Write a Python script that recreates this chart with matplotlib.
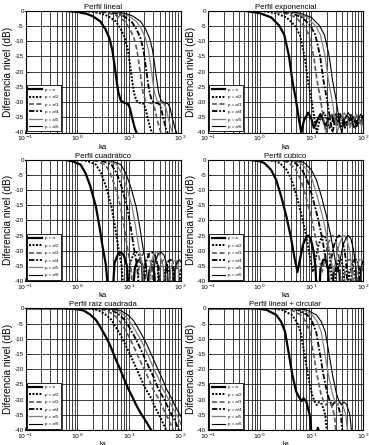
import matplotlib
matplotlib.use("Agg")
import matplotlib.pyplot as plt
from matplotlib.ticker import NullFormatter, LogLocator

plt.rcParams['font.family'] = ['Liberation Sans', 'DejaVu Sans']

labels = ["p = a", "p = a/2", "p = a/3", "p = a/4", "p = a/5", "p = a/6"]
titles = ["Perfil lineal", "Perfil exponencial", "Perfil cuadrático",
          "Perfil cúbico", "Perfil raíz cuadrada", "Perfil lineal + circular"]
x_ticks = [0.1, 1, 10, 100]
x_ticklabels = ["$10^{-1}$", "$10^{0}$", "$10^{1}$", "$10^{2}$"]
y_ticks = [0, -5, -10, -15, -20, -25, -30, -35, -40]
y_ticklabels = ["0", "-5", "-10", "-15", "-20", "-25", "-30", "-35", "-40"]

# ---- Perfil lineal ----
lineal_db = [0, 0, -0.4, -1, -1.8, -3.5, -6, -9, -13, -18, -23, -27, -29.5, -30.2, -30.5, -32, -35, -38.5, -40, -44]
lineal_ka = [
    [0.1, 0.5, 1.0, 1.5, 2.0, 2.8, 3.5, 4.2, 4.8, 5.3, 5.8, 6.3, 7.0, 8.0, 9.5, 10.5, 11.5, 13, 14, 16],
    [0.1, 1.0, 2.0, 3.0, 4.0, 5.6, 7.0, 8.4, 9.6, 10.6, 11.6, 12.6, 14, 16, 19, 21, 23, 26, 28, 32],
    [0.1, 1.5, 3.0, 4.5, 6.0, 8.4, 10.5, 12.6, 14.4, 15.9, 17.4, 18.9, 21, 24, 28.5, 31.5, 34.5, 39, 42, 48],
    [0.1, 2.0, 4.0, 6.0, 8.0, 11.2, 14, 16.8, 19.2, 21.2, 23.2, 25.2, 28, 32, 38, 42, 46, 52, 56, 64],
    [0.1, 2.5, 5.0, 7.5, 10, 14, 17.5, 21, 24, 26.5, 29, 31.5, 35, 40, 47.5, 52.5, 57.5, 65, 70, 80],
    [0.1, 3.0, 6.0, 9.0, 12, 16.8, 21, 25.2, 28.8, 31.8, 34.8, 37.8, 42, 48, 57, 63, 69, 78, 84, 96],
]

# ---- Perfil exponencial ----
expo_db = [0, 0, -0.8, -2.2, -4.9, -8, -15, -23, -29, -36, -40, -36, -33.5, -35.5, -38.5,
           -36, -34, -36, -38, -35.5, -34.5, -37, -37.5, -35, -35, -37, -36.5, -35.5, -36.5, -36]
expo_ka = [
    [0.1, 0.5, 1, 1.67, 2.4, 3, 3.7, 4.3, 5, 5.8, 6.4, 7.2, 8.7, 10, 11.2, 13, 15, 17, 18.7, 21.5,
     25, 28, 31, 35, 40, 45, 50, 60, 70, 85],
    [0.1, 1, 2, 3.3, 4.8, 6, 7.4, 8.6, 10, 11.6, 12.8, 14.4, 17.4, 20, 22.4, 26, 30, 34, 37.4, 43,
     50, 56, 62, 70, 80, 90, 100, 120, 140, 170],
    [0.1, 1.5, 3, 5, 7.2, 9, 11.1, 12.9, 15, 17.4, 19.2, 21.6, 26.1, 30, 33.6, 39, 45, 51, 56, 64.5,
     75, 84, 93, 105, 120, 135, 150, 180, 210, 255],
    [0.1, 2, 4, 6.7, 9.6, 12, 14.8, 17.2, 20, 23.2, 25.6, 28.8, 34.8, 40, 44.8, 52, 60, 68, 74.8, 86,
     100, 112, 124, 140, 160, 180, 200, 240, 280, 340],
    [0.1, 2.5, 5, 8.4, 12, 15, 18.5, 21.5, 25, 29, 32, 36, 43.5, 50, 56, 65, 75, 85, 93.5, 107.5,
     125, 140, 155, 175, 200, 225, 250, 300, 350, 425],
    [0.1, 3, 6, 10, 14.4, 18, 22.2, 25.8, 30, 34.8, 38.4, 43.2, 52.2, 60, 67.2, 78, 90, 102, 112, 129,
     150, 168, 186, 210, 240, 270, 300, 360, 420, 510],
]

# ---- Perfil cuadrático ----
cuad_db = [0, 0, -0.5, -1.6, -4.4, -8.8, -15.4, -22, -28.6, -34.7, -48, -48, -34, -31, -30.5,
           -31.5, -35, -48, -48, -36, -33.5, -33, -34.5, -48, -48, -36.5, -35.5, -37, -48]
cuad_ka = [
    [0.1, 0.55, 0.8, 1.16, 1.45, 1.8, 2.3, 2.7, 3.1, 3.6, 4.2, 4.7, 5.3, 6.2, 7.0, 8.0, 9.2, 10.3,
     11.5, 13, 14.5, 16, 18, 19.5, 22, 25, 28, 31, 34],
    [0.1, 1.1, 1.6, 2.3, 2.9, 3.6, 4.6, 5.4, 6.2, 7.2, 8.4, 9.4, 10.6, 12.4, 14, 16, 18.4, 20.6,
     23, 26, 29, 32, 36, 39, 44, 50, 56, 62, 68],
    [0.1, 1.65, 2.4, 3.5, 4.35, 5.4, 6.9, 8.1, 9.3, 10.8, 12.6, 14.1, 15.9, 18.6, 21, 24, 27.6, 30.9,
     34.5, 39, 43.5, 48, 54, 58.5, 66, 75, 84, 93, 102],
    [0.1, 2.2, 3.2, 4.6, 5.8, 7.2, 9.2, 10.8, 12.4, 14.4, 16.8, 18.8, 21.2, 24.8, 28, 32, 36.8, 41.2,
     46, 52, 58, 64, 72, 78, 88, 100, 112, 124, 136],
    [0.1, 2.75, 4, 5.8, 7.25, 9, 11.5, 13.5, 15.5, 18, 21, 23.5, 26.5, 31, 35, 40, 46, 51.5,
     57.5, 65, 72.5, 80, 90, 97.5, 110, 125, 140, 155, 170],
    [0.1, 3.3, 4.8, 7, 8.7, 10.8, 13.8, 16.2, 18.6, 21.6, 25.2, 28.2, 31.8, 37.2, 42, 48, 55.2, 61.8,
     69, 78, 87, 96, 108, 117, 132, 150, 168, 186, 204],
]

# ---- Perfil cúbico ----
cub_db = [0, 0, -0.5, -1.1, -3.3, -6.6, -12, -18.8, -25.4, -33, -37, -33, -28, -25.5, -25, -26, -30,
          -35, -48, -48, -36, -33, -33, -36, -48, -48, -37, -35.5, -37, -48]
cub_ka = [
    [0.1, 0.6, 1.0, 1.23, 1.66, 2.08, 2.6, 3.3, 4.0, 4.8, 5.4, 6.0, 6.9, 8.0, 8.7, 9.7, 11, 12, 13,
     14, 15, 17, 19, 21, 23, 25, 27, 31, 35, 38],
    [0.1, 1.2, 2.0, 2.46, 3.32, 4.16, 5.2, 6.6, 8.0, 9.6, 10.8, 12, 13.8, 16, 17.4, 19.4, 22, 24, 26,
     28, 30, 34, 38, 42, 46, 50, 54, 62, 70, 76],
    [0.1, 1.8, 3, 3.7, 5, 6.24, 7.8, 9.9, 12, 14.4, 16.2, 18, 20.7, 24, 26.1, 29.1, 33, 36, 39,
     42, 45, 51, 57, 63, 69, 75, 81, 93, 105, 114],
    [0.1, 2.4, 4, 4.9, 6.6, 8.3, 10.4, 13.2, 16, 19.2, 21.6, 24, 27.6, 32, 34.8, 38.8, 44, 48, 52,
     56, 60, 68, 76, 84, 92, 100, 108, 124, 140, 152],
    [0.1, 3, 5, 6.15, 8.3, 10.4, 13, 16.5, 20, 24, 27, 30, 34.5, 40, 43.5, 48.5, 55, 60, 65,
     70, 75, 85, 95, 105, 115, 125, 135, 155, 175, 190],
    [0.1, 3.6, 6, 7.4, 10, 12.5, 15.6, 19.8, 24, 28.8, 32.4, 36, 41.4, 48, 52.2, 58.2, 66, 72, 78,
     84, 90, 102, 114, 126, 138, 150, 162, 186, 210, 228],
]

# ---- Perfil raíz cuadrada ----
raiz_db = [0, 0, -0.3, -0.7, -2, -3.8, -6, -9, -12, -16.5, -19.8, -23, -26.4, -29.5, -31.9, -34.5,
           -36.3, -38.5, -40, -43]
raiz_ka = [
    [0.1, 0.5, 1, 1.32, 1.77, 2.3, 2.77, 3.5, 4.3, 5.5, 6.7, 8, 9.7, 12, 14, 17, 20, 24, 27, 33],
    [0.1, 1, 2, 2.6, 3.5, 4.6, 5.5, 7, 8.6, 11.5, 14, 17, 21, 27, 31, 37, 42, 48, 53, 64],
    [0.1, 1.4, 2.8, 3.7, 5, 6.4, 7.8, 9.8, 12, 15.8, 19.5, 24, 29, 37, 43, 51, 58, 66, 72, 86],
    [0.1, 1.8, 3.6, 4.8, 6.4, 8.3, 10, 12.6, 15.5, 20.5, 25, 31, 37, 47, 55, 65, 75, 85, 93, 110],
    [0.1, 2.2, 4.4, 5.8, 7.8, 10, 12, 15.4, 19, 25, 30.5, 37.5, 45, 57, 67, 80, 92, 104, 114, 135],
    [0.1, 2.6, 5.2, 6.9, 9.3, 12, 14.5, 18.2, 22.5, 29.5, 36, 44, 53, 67, 78, 94, 108, 122, 135, 160],
]

# ---- Perfil lineal + circular ----
lc_db_a = [0, 0, -0.5, -2.2, -4.4, -7.7, -15.3, -22, -27.4, -29, -30.5, -29.6, -30.7, -35, -45, -41, -39.3, -41]
lc_db_b = [0, 0, -0.5, -2.2, -4.4, -7.7, -15.3, -22, -28, -30.5, -31.8, -30.8, -31.5, -35, -45, -45, -45, -45]
lc_ka = [
    [0.1, 0.8, 1.35, 2.1, 2.6, 3.1, 3.7, 4.3, 5.1, 5.7, 6.4, 7.1, 8.0, 9.3, 10.6, 12.6, 13.4, 14.2],
    [0.1, 1.6, 2.7, 4.2, 5.2, 6.2, 7.4, 8.6, 10.2, 11.4, 12.8, 14.2, 16, 18.6, 21.2, 25.2, 26.8, 28.4],
    [0.1, 2.4, 4.05, 6.3, 7.8, 9.3, 11.1, 12.9, 15.3, 17.1, 19.2, 21.3, 24, 27.9, 31.8, 37.8, 40.2, 42.6],
    [0.1, 3.2, 5.4, 8.4, 10.4, 12.4, 14.8, 17.2, 20.4, 22.8, 25.6, 28.4, 32, 37.2, 42.4, 50.4, 53.6, 56.8],
    [0.1, 4, 6.75, 10.5, 13, 15.5, 18.5, 21.5, 25.5, 28.5, 32, 35.5, 40, 46.5, 53, 63, 67, 71],
    [0.1, 4.8, 8.1, 12.6, 15.6, 18.6, 22.2, 25.8, 30.6, 34.2, 38.4, 42.6, 48, 55.8, 63.6, 75.6, 80.4, 85.2],
]

panels = [
    (lineal_ka, [lineal_db] * 6),
    (expo_ka, [expo_db] * 6),
    (cuad_ka, [cuad_db] * 6),
    (cub_ka, [cub_db] * 6),
    (raiz_ka, [raiz_db] * 6),
    (lc_ka, [lc_db_a] + [lc_db_b] * 5),
]

styles = [
    dict(color='k', lw=1.6, ls='-'),
    dict(color='k', lw=1.4, ls=(0, (1, 0.8))),
    dict(color='0.35', lw=1.2, ls=(0, (3, 1.5))),
    dict(color='k', lw=1.3, ls=(0, (3, 1, 1, 1))),
    dict(color='0.5', lw=0.9, ls='-'),
    dict(color='k', lw=0.8, ls='-'),
]

W, H = 369, 445
fig = plt.figure(figsize=(W / 100, H / 100), dpi=100)

lefts = [25.5, 208]
widths = [155, 155]
rows = [(10.7, 132.5), (159.7, 281), (308.3, 430)]

for i, ((kas, dbs), title) in enumerate(zip(panels, titles)):
    r, c = divmod(i, 2)
    top, bot = rows[r]
    ax = fig.add_axes([lefts[c] / W, 1 - bot / H, widths[c] / W, (bot - top) / H])
    for ka, db, st, lab in zip(kas, dbs, styles, labels):
        ax.plot(ka, db, label=lab, **st)
    ax.set_xscale('log')
    ax.set_xlim(0.1, 100)
    ax.set_ylim(-40, 0)
    ax.set_xticks(x_ticks)
    ax.set_xticklabels(x_ticklabels)
    ax.xaxis.set_minor_locator(LogLocator(base=10, subs=range(2, 10)))
    ax.xaxis.set_minor_formatter(NullFormatter())
    ax.set_yticks(y_ticks)
    ax.set_yticklabels(y_ticklabels)
    ax.grid(True, which='both', color='0.12', lw=0.6)
    ax.tick_params(which='both', direction='in', labelsize=4.5, length=2, pad=1.2, width=0.5)
    ax.tick_params(which='minor', length=1)
    for s in ax.spines.values():
        s.set_linewidth(0.8)
    ax.set_title(title, fontsize=5.6, pad=1.5)
    ax.set_ylabel("Diferencia nivel (dB)", fontsize=7.2, labelpad=1)
    ax.set_xlabel("ka", fontsize=5.6 if r < 2 else 4.6, labelpad=0.3)
    leg = ax.legend(loc='lower left', fontsize=3.2, frameon=True, fancybox=False,
                    edgecolor='k', framealpha=1, borderaxespad=0.3, handlelength=3.0,
                    labelspacing=0.75, borderpad=0.5, handletextpad=0.6)
    leg.get_frame().set_linewidth(0.6)

fig.savefig("out.png", dpi=100)
